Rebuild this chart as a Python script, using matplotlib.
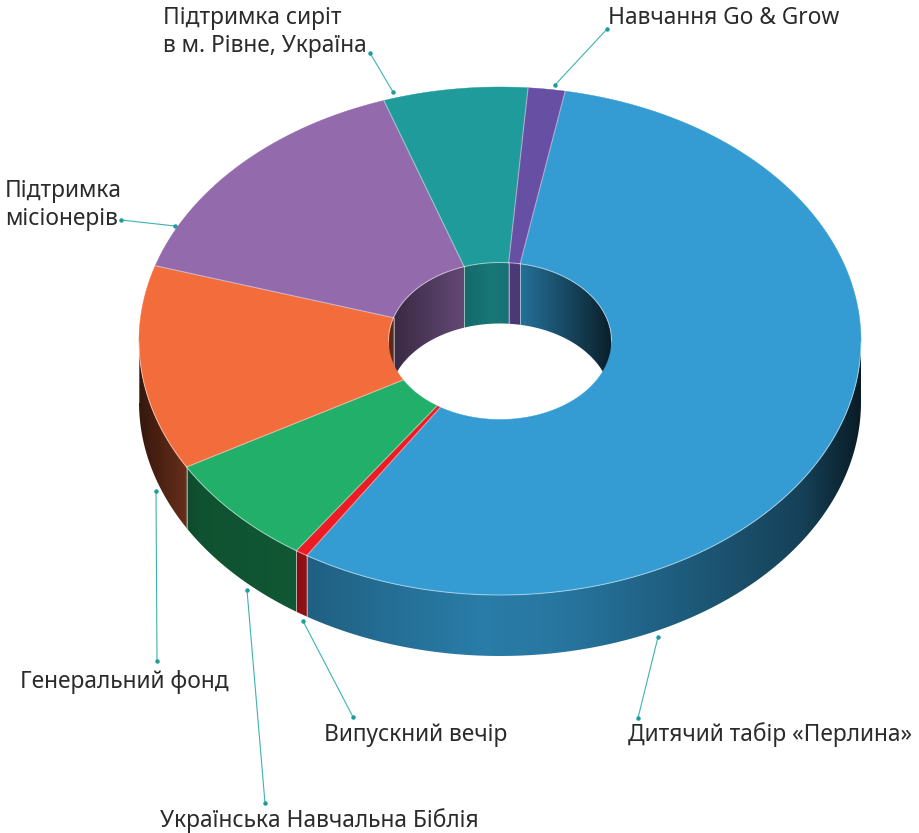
import numpy as np
import matplotlib
matplotlib.use('Agg')
import matplotlib.pyplot as plt
from matplotlib.patches import Polygon

# Slices clockwise, starting with the big blue one (percent, estimated)
names = ['Дитячий табір «Перлина»', 'Випускний вечір', 'Українська Навчальна Біблія', 'Генеральний фонд',
         'Підтримка місіонерів', 'Підтримка сиріт в м. Рівне, Україна', 'Навчання Go & Grow']
values = [56.1, 0.55, 7.2, 13.05, 15.0, 6.45, 1.65]
colors = ['#349CD3', '#ED1C24', '#21AF69', '#F36C3C', '#936BAC', '#1F9B9B', '#674FA3']

# Labels: text, left edge, baseline
label_texts = ['Підтримка сиріт', 'в м. Рівне, Україна', 'Навчання Go & Grow', 'Підтримка', 'місіонерів',
               'Генеральний фонд', 'Українська Навчальна Біблія', 'Випускний вечір', 'Дитячий табір «Перлина»']
label_x = [163, 163, 608, 5, 5, 20, 160, 324, 628]
label_y = [24, 52, 24, 197, 225, 688, 827, 741, 741]

# Leader lines: label end, chart end
leader_from = [(370, 53), (607, 29), (121, 220), (157, 661), (265, 803), (353, 717), (638, 718)]
leader_to = [(393, 92), (555, 85), (175, 226), (156, 491), (247, 590), (303, 621), (658, 637)]

# Ellipse geometry in pixels
cx, cy = 500, 341
rx, ry = 361, 254
hole_rx, hole_ry = 111.5, 78.5
depth = 61
start_angle = 10.4

# Wall brightness by x position
outer_x = [139, 185, 200, 296, 300, 310, 480, 560, 700, 800, 860]
outer_shade = [0.22, 0.42, 0.47, 0.50, 0.60, 0.62, 0.80, 0.76, 0.56, 0.42, 0.18]
inner_x = [390, 465, 490, 519, 560, 611]
inner_shade = [0.38, 0.68, 0.77, 0.72, 0.50, 0.20]


def ring_point(angle, a, b):
    t = np.radians(angle)
    return cx + a * np.sin(t), cy - b * np.cos(t)


def wall(ax, a0, a1, a, b, base, xp, fp, lo, hi):
    # Only the part of the wall between lo and hi can be seen
    s, e = max(a0, lo), min(a1, hi)
    if e <= s:
        return
    angles = np.linspace(s, e, max(3, int((e - s) * 3)))
    xs, ys = ring_point(angles, a, b)
    outline = np.column_stack((np.concatenate((xs, xs[::-1])),
                               np.concatenate((ys, ys[::-1] + depth))))
    # gradient runs only along x, so a one row image clipped to the wall does it
    x0, x1 = xs.min() - 2, xs.max() + 2
    gx = np.linspace(x0, x1, int(x1 - x0) + 1)
    rgb = np.array(matplotlib.colors.to_rgb(base))
    img = np.interp(gx, xp, fp)[None, :, None] * rgb[None, None, :]
    im = ax.imshow(img, extent=[x0, x1, 833, 0], aspect='auto', interpolation='bilinear', zorder=2)
    im.set_clip_path(Polygon(outline, closed=True, transform=ax.transData))
    for i in [0, -1]:
        ax.plot([xs[i], xs[i]], [ys[i], ys[i] + depth], color='white', alpha=0.3, lw=0.7, zorder=3)


fig = plt.figure(figsize=(9.2, 8.33), dpi=100)
ax = fig.add_axes([0, 0, 1, 1])

spans = np.array(values) / sum(values) * 360
edges = start_angle + np.concatenate(([0], np.cumsum(spans)))

for i in range(len(values)):
    a0, a1 = edges[i], edges[i + 1]
    # inner wall shows on the back half, outer wall on the front half
    wall(ax, a0, a1, hole_rx, hole_ry, colors[i], inner_x, inner_shade, 270, 450)
    wall(ax, a0, a1, hole_rx, hole_ry, colors[i], inner_x, inner_shade, -90, 90)
    wall(ax, a0, a1, rx, ry, colors[i], outer_x, outer_shade, 90, 270)

for i in range(len(values)):
    angles = np.linspace(edges[i], edges[i + 1], max(3, int(spans[i] * 3)))
    ox, oy = ring_point(angles, rx, ry)
    hx, hy = ring_point(angles[::-1], hole_rx, hole_ry)
    ax.fill(np.concatenate((ox, hx)), np.concatenate((oy, hy)), facecolor=colors[i],
            edgecolor=colors[i], lw=0.3, zorder=4)
    ax.plot([ox[0], hx[-1]], [oy[0], hy[-1]], color='white', alpha=0.45, lw=0.8, zorder=5)
    # light rim along the visible edges
    front = (angles > 90) & (angles < 270)
    ax.plot(ox[front], oy[front], color='white', alpha=0.45, lw=0.8, zorder=5)
    back = ((angles[::-1] < 90) | (angles[::-1] > 270))
    ax.plot(hx[back], hy[back], color='white', alpha=0.45, lw=0.8, zorder=5)

for p0, p1 in zip(leader_from, leader_to):
    ax.plot([p0[0], p1[0]], [p0[1], p1[1]], color='#3FB2B2', lw=0.8, zorder=6,
            marker='o', ms=2.2, mec='#1F9B9B', mfc='#1F9B9B')

for text, x, y in zip(label_texts, label_x, label_y):
    ax.text(x, y, text, ha='left', va='baseline', fontsize=16.4, color='#2b2b2b',
            family='Noto Sans', zorder=7)

ax.set_xlim(0, 920)
ax.set_ylim(833, 0)
ax.axis('off')

fig.savefig('out.png', dpi=100)
